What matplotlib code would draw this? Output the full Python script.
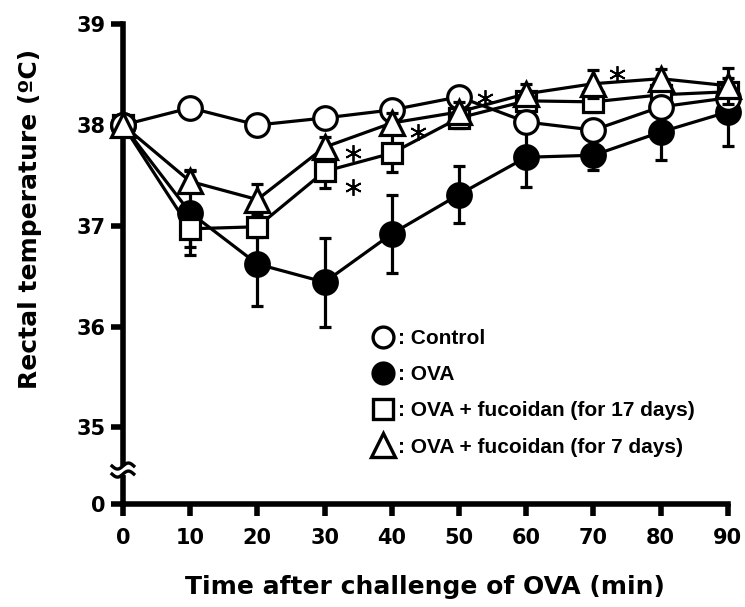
import numpy as np
import matplotlib.pyplot as plt
from matplotlib.lines import Line2D
import matplotlib.transforms as mtransforms

plt.rcParams['font.family'] = ['DejaVu Sans']
plt.rcParams['font.weight'] = 'bold'

# time after challenge (min)
time = [0, 10, 20, 30, 40, 50, 60, 70, 80, 90]

# rectal temperature (deg C), mean and SE
control = [38.0, 38.17, 38.0, 38.07, 38.15, 38.28, 38.03, 37.95, 38.18, 38.27]
control_err = [0, 0.05, 0.05, 0.05, 0.05, 0.05, 0.05, 0.05, 0.05, 0.05]

ova = [38.0, 37.13, 36.62, 36.44, 36.92, 37.31, 37.68, 37.70, 37.93, 38.13]
ova_err = [0, 0.42, 0.42, 0.44, 0.39, 0.28, 0.30, 0.15, 0.28, 0.34]

fuc17 = [38.0, 36.97, 36.99, 37.54, 37.72, 38.07, 38.24, 38.23, 38.30, 38.33]
fuc17_err = [0, 0.18, 0.1, 0.17, 0.19, 0.1, 0.1, 0.1, 0.1, 0.1]

fuc7 = [38.0, 37.44, 37.26, 37.78, 38.02, 38.13, 38.31, 38.41, 38.46, 38.39]
fuc7_err = [0, 0.1, 0.15, 0.1, 0.1, 0.1, 0.1, 0.14, 0.1, 0.18]

# significance marks (x, y)
star_x = [34.2, 34.2, 43.9, 53.9, 73.5]
star_y = [37.72, 37.38, 37.93, 38.27, 38.51]

legend_labels = [': Control', ': OVA', ': OVA + fucoidan (for 17 days)',
                 ': OVA + fucoidan (for 7 days)']

ZERO_POS = 34.24  # where "0" sits below the axis break

fig = plt.figure(figsize=(7.45, 6.07), dpi=100)
ax = fig.add_axes([0.165, 0.170, 0.812, 0.790])

lw = 2.3
mew = 2.3
common = dict(color='black', lw=lw, markeredgewidth=mew,
              elinewidth=lw, capsize=4.5, capthick=lw, clip_on=False)

ax.errorbar(time, ova, yerr=ova_err, marker='o', markerfacecolor='black',
            markersize=17, zorder=3, **common)
ax.errorbar(time, fuc17, yerr=fuc17_err, marker='s', markerfacecolor='white',
            markersize=15, zorder=4, **common)
ax.errorbar(time, control, yerr=control_err, marker='o', markerfacecolor='white',
            markersize=17, zorder=5, **common)
ax.errorbar(time, fuc7, yerr=fuc7_err, marker='^', markerfacecolor='white',
            markersize=17, zorder=6, **common)

ax.plot(star_x, star_y, ls='none', marker=(6, 2, 0), markersize=12,
        markeredgewidth=1.3, color='black', zorder=7, clip_on=False)

ax.set_xlim(0, 90)
ax.set_ylim(ZERO_POS, 39)
ax.set_xticks(time)
ax.set_yticks([ZERO_POS, 35, 36, 37, 38, 39])
ax.set_yticklabels(['0', '35', '36', '37', '38', '39'])

for side in ['top', 'right']:
    ax.spines[side].set_visible(False)
for side in ['left', 'bottom']:
    ax.spines[side].set_linewidth(4)
ax.tick_params(width=4, length=8.5, labelsize=15)
ax.tick_params(axis='x', pad=9)
ax.tick_params(axis='y', pad=4)
for lab in ax.get_xticklabels() + ax.get_yticklabels():
    lab.set_fontweight('bold')

ax.set_xlabel('Time after challenge of OVA (min)', fontsize=18, fontweight='bold')
ax.xaxis.set_label_coords(0.5, -0.148)
ax.set_ylabel('Rectal temperature (\u00baC)', fontsize=18, fontweight='bold')
ax.yaxis.set_label_coords(-0.134, 0.594)

# axis break on the y spine
trans = mtransforms.blended_transform_factory(ax.transAxes, ax.transData)
yb = 34.575
ax.add_patch(plt.Rectangle((-0.015, yb - 0.045), 0.03, 0.09, transform=trans,
                           facecolor='white', edgecolor='none', zorder=10,
                           clip_on=False))
wx = np.linspace(-0.018, 0.018, 40)
wave = 0.03 * np.sin(wx / 0.018 * np.pi)
for off in (0.04, -0.04):
    ax.plot(wx, yb + off + wave, color='black', lw=2.4, transform=trans,
            clip_on=False, zorder=11)

handles = [
    Line2D([], [], ls='none', marker='o', color='black', markerfacecolor='white',
           markersize=15, markeredgewidth=2.4),
    Line2D([], [], ls='none', marker='o', color='black', markerfacecolor='black',
           markersize=15, markeredgewidth=2.4),
    Line2D([], [], ls='none', marker='s', color='black', markerfacecolor='white',
           markersize=15, markeredgewidth=2.4),
    Line2D([], [], ls='none', marker='^', color='black', markerfacecolor='white',
           markersize=17, markeredgewidth=2.4),
]
leg = ax.legend(handles, legend_labels, loc='upper left',
                bbox_to_anchor=(0.4126, 0.364), frameon=False,
                borderaxespad=0, borderpad=0,
                handlelength=1.0, handletextpad=0.2, labelspacing=0.82,
                prop={'family': 'Liberation Sans', 'size': 15, 'weight': 'bold'})

fig.savefig('out.png', dpi=100)
